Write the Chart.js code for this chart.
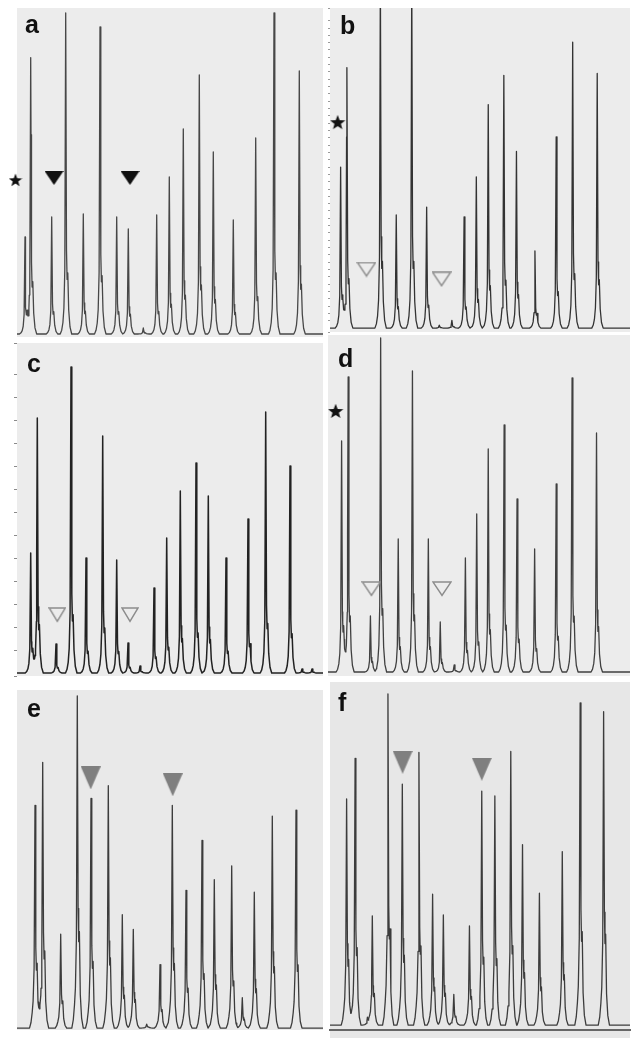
<!DOCTYPE html>
<html><head><meta charset="utf-8">
<script src="https://cdn.jsdelivr.net/npm/chart.js@4"></script>
<style>
html,body{margin:0;padding:0;background:#fff;}
#wrap{position:relative;width:638px;height:1038px;overflow:hidden;background:#fff;}
canvas{position:absolute;left:0;top:0;}
</style></head><body>
<div id="wrap">
<canvas id="ca" width="638" height="1038"></canvas>
<canvas id="cb" width="638" height="1038"></canvas>
<canvas id="cc" width="638" height="1038"></canvas>
<canvas id="cd" width="638" height="1038"></canvas>
<canvas id="ce" width="638" height="1038"></canvas>
<canvas id="cf" width="638" height="1038"></canvas>
</div>
<script>
// ---------- DATA (peak positions along the run, peak heights in relative fluorescence) ----------
const aPos    = [8, 13.7, 34.7, 48.7, 66.3, 83, 99.7, 111.3, 126.3, 139.7, 152.3, 166.3, 182.3, 196.3, 216.3, 238.7, 257, 282.3];
const aHeight = [97, 276, 117, 321, 120, 307, 117, 105, 6, 119, 157, 205, 259, 182, 114, 196, 321, 263];
const aStarX = [-1.5], aStarY = [154];
const aTriX = [37, 113], aTriY = [156, 156];

const bPos    = [10.7, 17, 50.7, 66.7, 82.3, 97.3, 110, 122.7, 135, 147.3, 159.3, 175, 187.7, 206.3, 227.7, 244.3, 269];
const bHeight = [165, 267, 360, 116, 360, 124, 3, 8, 114, 155, 229, 259, 181, 79, 196, 293, 261];
const bStarX = [7.7], bStarY = [211];
const bTriX = [36.7, 112.3], bTriY = [60, 50];

const cPos    = [13.7, 20.3, 39, 54, 69, 85.7, 99.7, 111, 123, 137, 149.7, 163.3, 179, 191.3, 209, 231, 248.7, 273, 285, 295];
const cHeight = [120, 255, 29, 306, 115, 237, 113, 30, 7, 85, 135, 182, 210, 177, 115, 154, 261, 207, 4, 4];
const cTriX = [40.3, 113], cTriY = [58, 58];

const dPos    = [13.7, 20.3, 42.7, 53, 70.7, 85, 101, 113, 127, 138.3, 149.7, 161.3, 177.3, 190.3, 208, 229.7, 245.7, 270.3];
const dHeight = [231, 295, 56, 334, 133, 301, 133, 50, 7, 114, 158, 223, 247, 173, 123, 188, 294, 239];
const dStarX = [7.7], dStarY = [261];
const dTriX = [43.7, 114.7], dTriY = [83, 83];

const ePos    = [18, 25.7, 43.7, 60.3, 74, 91.3, 105.3, 116.3, 129.7, 143, 155.3, 169, 185, 197.3, 214.7, 225.3, 237.3, 255.3, 279];
const eHeight = [228, 272, 96, 340, 235, 248, 116, 101, 4, 65, 228, 141, 192, 152, 166, 31, 139, 217, 223];
const eTriX = [73.7, 155.7], eTriY = [256, 249];

const fPos    = [17, 25.7, 38.3, 43.3, 59.3, 74, 91, 105, 116, 126.7, 142.7, 155.3, 168.7, 185, 197, 214.3, 237.7, 256, 280];
const fHeight = [228, 269, 7, 110, 334, 243, 275, 132, 111, 31, 100, 236, 231, 276, 182, 133, 175, 325, 316];
const fTriX = [74.3, 155.3], fTriY = [265, 258];

// ---------- peak drawing profile (style) ----------
const PROFILES = {
  std:     {x: [-5.5, -4, -2.8, -1.8, -0.9, 0, 0.8, 1.4, 2.1, 3, 4.3, 6],
            y: [0, 0.012, 0.035, 0.08, 0.2, 1, 0.26, 0.17, 0.19, 0.075, 0.022, 0]},
  stutter: {x: [-5.5, -4, -2.8, -1.9, -0.9, 0, 0.8, 1.4, 2.1, 3, 4.3, 6],
            y: [0, 0.025, 0.07, 0.12, 0.27, 1, 0.36, 0.26, 0.29, 0.1, 0.03, 0]}
};
function profileAt(p, dx) {
  const X = p.x, Y = p.y;
  if (dx <= X[0] || dx >= X[X.length - 1]) return 0;
  for (let i = 1; i < X.length; i++) {
    if (dx <= X[i]) { const t = (dx - X[i-1]) / (X[i] - X[i-1]); return Y[i-1] + t * (Y[i] - Y[i-1]); }
  }
  return 0;
}
function buildTrace(pos, ht, xmax, prof) {
  const xs = new Set([0, xmax]);
  pos.forEach(p => prof.x.forEach(o => xs.add(+(p + o).toFixed(3))));
  const arr = [...xs].filter(x => x >= 0 && x <= xmax).sort((a, b) => a - b);
  return arr.map(x => {
    let y = 0;
    pos.forEach((p, i) => { y += ht[i] * profileAt(prof, x - p); });
    return {x, y};
  });
}
function zipXY(xs, ys) { return xs.map((x, i) => ({x, y: ys[i]})); }

// ---------- marker images ----------
function starImg(size, color) {
  const c = document.createElement('canvas'); c.width = size; c.height = size;
  const g = c.getContext('2d'); const R = size / 2, r = R * 0.42;
  g.beginPath();
  for (let i = 0; i < 10; i++) {
    const a = -Math.PI / 2 + i * Math.PI / 5, rr = i % 2 ? r : R;
    g.lineTo(R + rr * Math.cos(a), R + rr * Math.sin(a) + size * 0.04);
  }
  g.closePath(); g.fillStyle = color; g.fill();
  return c;
}
function triImg(w, h, fill, stroke, lw) {
  const c = document.createElement('canvas'); c.width = w; c.height = h;
  const g = c.getContext('2d'); const m = lw ? lw / 2 + 0.3 : 0;
  g.beginPath(); g.moveTo(m, m); g.lineTo(w - m, m); g.lineTo(w / 2, h - m * 1.6); g.closePath();
  if (fill) { g.fillStyle = fill; g.fill(); }
  if (stroke) { g.strokeStyle = stroke; g.lineWidth = lw; g.stroke(); }
  return c;
}

// ---------- plugins ----------
const bgPlugin = {
  id: 'panelBg',
  beforeDraw(chart, args, o) {
    const a = chart.chartArea, ctx = chart.ctx;
    ctx.save(); ctx.fillStyle = o.color;
    ctx.fillRect(a.left, a.top, a.right - a.left, (o.bottom || a.bottom) - a.top);
    ctx.restore();
  }
};
const labelPlugin = {
  id: 'panelLabel',
  afterDraw(chart, args, o) {
    const ctx = chart.ctx; ctx.save();
    ctx.font = 'bold 25px "Liberation Sans", Arial, sans-serif';
    ctx.fillStyle = '#111'; ctx.textAlign = 'left'; ctx.textBaseline = 'alphabetic';
    ctx.fillText(o.text, o.x, o.y); ctx.restore();
  }
};

function makePanel(id, cfg) {
  const W = cfg.r - cfg.l;
  const trace = buildTrace(cfg.pos, cfg.ht, W, PROFILES[cfg.profile]);
  const datasets = [{
    data: trace, showLine: true, borderColor: cfg.color, borderWidth: cfg.lw,
    pointRadius: 0, tension: 0, fill: false, order: 2, borderJoinStyle: 'round'
  }];
  (cfg.markers || []).forEach(m => datasets.push({
    data: zipXY(m.x, m.y), showLine: false, pointStyle: m.img, pointRadius: 8,
    pointBorderWidth: 0, clip: false, order: 1
  }));
  const yAxis = {min: -(cfg.b - cfg.base), max: cfg.base - cfg.t, display: false};
  if (cfg.ticks) {
    Object.assign(yAxis, {
      display: true, afterFit: s => { s.width = 0; },
      ticks: {display: false, stepSize: cfg.ticks.step},
      border: {display: false},
      grid: {drawOnChartArea: false, drawTicks: true, tickLength: cfg.ticks.len, color: cfg.ticks.color, lineWidth: 1}
    });
  }
  const xAxis = {type: 'linear', min: 0, max: W, display: false};
  if (cfg.axisLine) {
    Object.assign(xAxis, {
      display: true, afterFit: s => { s.height = 0; },
      ticks: {display: false}, grid: {display: false, drawTicks: false},
      border: {display: true, color: cfg.axisLine.color, width: cfg.axisLine.width}
    });
  }
  new Chart(document.getElementById(id), {
    type: 'scatter',
    data: {datasets},
    options: {
      responsive: false, animation: false, events: [],
      layout: {padding: {left: cfg.l, top: cfg.t, right: 638 - cfg.r, bottom: 1038 - cfg.b}},
      scales: {x: xAxis, y: yAxis},
      plugins: {legend: {display: false}, tooltip: {enabled: false},
        panelBg: {color: cfg.bg, bottom: cfg.bgBottom},
        panelLabel: {text: cfg.label, x: cfg.lx, y: cfg.ly}}
    },
    plugins: [bgPlugin, labelPlugin]
  });
}

const STAR_S = starImg(14, '#111');
const STAR_L = starImg(16, '#111');
const TRI_BLACK = triImg(19, 14, '#111', null, 0);
const TRI_OPEN = triImg(20, 16, null, '#8c8c8c', 1.5);
const TRI_OPEN_S = triImg(18, 16, null, '#8c8c8c', 1.5);
const TRI_GRAY = triImg(20, 23, '#7f7f7f', null, 0);

makePanel('ca', {l: 17, t: 8, r: 323, b: 337, base: 334, pos: aPos, ht: aHeight, profile: 'std',
  color: '#474747', lw: 1.3, bg: '#ececec', label: 'a', lx: 25, ly: 33,
  markers: [{x: aStarX, y: aStarY, img: STAR_S}, {x: aTriX, y: aTriY, img: TRI_BLACK}]});
makePanel('cb', {l: 330, t: 0, r: 632, b: 332, base: 328, pos: bPos, ht: bHeight, profile: 'std',
  color: '#333', lw: 1.3, bg: '#ececec', label: 'b', lx: 340, ly: 34,
  ticks: {step: 7.5, len: 2, color: '#9a9a9a'},
  markers: [{x: bStarX, y: bStarY, img: STAR_L}, {x: bTriX, y: bTriY, img: TRI_OPEN}]});
makePanel('cc', {l: 17, t: 343, r: 323, b: 676, base: 673, pos: cPos, ht: cHeight, profile: 'std',
  color: '#222', lw: 1.5, bg: '#ececec', label: 'c', lx: 27, ly: 372,
  ticks: {step: 23, len: 3, color: '#8a8a8a'},
  markers: [{x: cTriX, y: cTriY, img: TRI_OPEN_S}]});
makePanel('cd', {l: 328, t: 335, r: 632, b: 676, base: 672, pos: dPos, ht: dHeight, profile: 'std',
  color: '#404040', lw: 1.3, bg: '#ececec', label: 'd', lx: 338, ly: 367,
  markers: [{x: dStarX, y: dStarY, img: STAR_L}, {x: dTriX, y: dTriY, img: TRI_OPEN}]});
makePanel('ce', {l: 17, t: 690, r: 323, b: 1038, base: 1036, pos: ePos, ht: eHeight, profile: 'stutter',
  color: '#3c3c3c', lw: 1.3, bg: '#e9e9e9', label: 'e', lx: 27, ly: 717,
  markers: [{x: eTriX, y: eTriY, img: TRI_GRAY}]});
makePanel('cf', {l: 330, t: 682, r: 637, b: 1033, base: 1028, bgBottom: 1038, pos: fPos, ht: fHeight, profile: 'stutter',
  color: '#3c3c3c', lw: 1.3, bg: '#e7e7e7', label: 'f', lx: 338, ly: 711,
  axisLine: {color: '#666', width: 2},
  markers: [{x: fTriX, y: fTriY, img: TRI_GRAY}]});
</script>
</body></html>
